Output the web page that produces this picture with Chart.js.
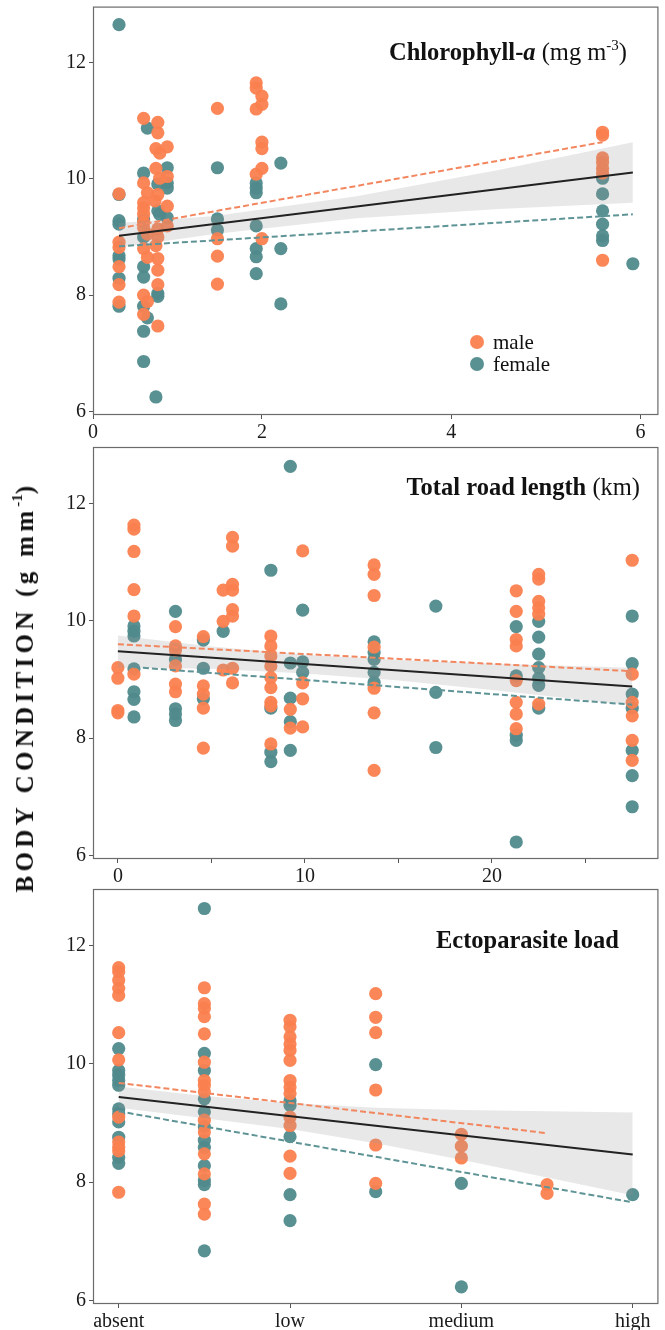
<!DOCTYPE html>
<html>
<head>
<meta charset="utf-8">
<script src="https://cdn.jsdelivr.net/npm/chart.js@4.4.1/dist/chart.umd.min.js"></script>
<style>
  html, body { margin:0; padding:0; background:#fff; }
  body { width:665px; height:1330px; position:relative; overflow:hidden; font-family:'Liberation Serif','Times New Roman',serif; color:#111; }
  canvas { position:absolute; left:0; }
  .ptitle { position:absolute; font-size:24.5px; line-height:26px; white-space:nowrap; color:#111; }
  .ptitle b { font-weight:bold; }
  .ptitle sup { font-size:15px; line-height:0; vertical-align:10px; }
  .legend { position:absolute; left:470px; top:331px; font-size:21px; line-height:22px; }
  .legend div { position:relative; padding-left:23px; height:22px; }
  .legend span.dot { position:absolute; left:0; top:4px; width:14px; height:14px; border-radius:50%; }
  .ylab { position:absolute; left:25px; top:687px; transform:translate(-50%,-50%) rotate(-90deg); font-weight:bold; font-size:25px; letter-spacing:4.3px; white-space:nowrap; }
  .ylab sup { font-size:15px; line-height:0; vertical-align:11px; letter-spacing:0; }
</style>
</head>
<body>
<canvas id="c1" width="665" height="460" style="top:0px"></canvas>
<canvas id="c2" width="665" height="460" style="top:440px"></canvas>
<canvas id="c3" width="665" height="450" style="top:880px"></canvas>

<div class="ptitle" style="right:38px; top:39px;"><b>Chlorophyll-<i>a</i></b> (mg m<sup>-3</sup>)</div>
<div class="ptitle" style="right:25px; top:474px;"><b>Total road length</b> (km)</div>
<div class="ptitle" style="right:46px; top:927px;"><b>Ectoparasite load</b></div>
<div class="legend" id="legend"></div>
<div class="ylab">BODY CONDITION (g mm<sup>-1</sup>)</div>

<script>
// ---------- colours & names ----------
const seriesNames = ['male', 'female'];
const maleColor = 'rgba(251,129,80,0.95)';
const femaleColor = 'rgba(80,138,140,0.95)';

// ---------- shared y axis ----------
const yTickValues = [6, 8, 10, 12];

// ---------- Panel 1: Chlorophyll-a ----------
const chlTickValues = [0, 2, 4, 6];
const chlTickLabels = ['0', '2', '4', '6'];
const chlMaleX = [0.49,0.49,0.49,0.49,0.49,0.49,
  0.75,0.75,0.75,0.75,0.75,0.75,0.75,0.75,0.75,0.75,
  0.79,0.79,0.79,0.79,
  0.90,0.90,0.88,0.92,0.88,0.92,0.90,0.87,0.90,0.90,0.88,0.90,0.90,0.90,0.90,
  1.00,1.00,1.00,1.00,
  1.53,1.53,1.53,1.53,
  1.94,1.94,1.94,1.94,
  2.00,2.00,2.00,2.00,2.00,2.00,
  5.60,5.60,5.60,5.60,5.60,5.60,5.60];
const chlMaleY = [9.74,8.91,8.82,8.49,8.18,7.88,
  11.04,9.93,9.59,9.50,9.39,9.25,9.16,8.80,8.00,7.67,
  9.76,9.05,8.65,7.89,
  10.97,10.79,10.52,10.44,10.18,10.01,9.73,9.62,9.14,9.00,8.85,8.63,8.43,8.18,7.47,
  10.55,10.04,9.53,9.19,
  11.21,8.97,8.67,8.19,
  11.65,11.56,11.20,10.08,
  11.42,11.28,10.63,10.52,10.18,8.97,
  10.80,10.75,10.36,10.28,10.18,10.10,8.60];
const chlFemaleX = [0.49,0.49,0.49,0.49,0.49,0.49,0.49,0.49,
  0.75,0.75,0.75,0.75,0.75,0.75,0.75,0.75,
  0.79,0.79,
  0.90,0.90,0.92,0.90,0.90,0.88,
  1.00,1.00,1.00,1.00,
  1.53,1.53,1.53,
  1.94,1.94,1.94,1.94,1.94,1.94,1.94,
  2.20,2.20,2.20,
  5.60,5.60,5.60,5.60,5.60,5.60,
  5.92];
const chlFemaleY = [12.65,9.73,9.28,9.22,8.68,8.62,8.29,7.81,
  10.10,9.30,9.00,8.49,8.31,7.81,7.38,6.86,
  10.87,7.61,
  9.91,9.45,9.39,8.03,7.98,6.25,
  10.19,9.93,9.84,9.33,
  10.19,9.31,9.12,
  9.93,9.84,9.76,9.19,8.80,8.66,8.37,
  10.27,8.80,7.85,
  10.01,9.74,9.45,9.22,9.02,8.94,
  8.54];
const chlFitX = [0.49, 5.92];
const chlFitY = [9.02, 10.11];
const chlMaleFitX = [0.49, 5.60];
const chlMaleFitY = [9.15, 10.63];
const chlFemaleFitX = [0.49, 5.92];
const chlFemaleFitY = [8.84, 9.39];
const chlBandX = [0.49, 1.5, 3.0, 4.5, 5.92];
const chlBandUpper = [9.24, 9.36, 9.70, 10.15, 10.63];
const chlBandLower = [8.82, 9.05, 9.32, 9.48, 9.59];

// ---------- Panel 2: Total road length ----------
const roadTickValues = [0, 5, 10, 15, 20, 25];
const roadTickLabels = ['0', '', '10', '', '20', ''];
const roadMaleX = [0,0,0,0,
  0.86,0.86,0.86,0.86,0.86,0.86,
  3.08,3.08,3.08,3.08,3.08,3.08,
  4.57,4.57,4.57,4.57,4.57,
  5.63,5.63,5.63,
  6.13,6.13,6.13,6.13,6.13,6.13,6.13,6.13,
  8.18,8.18,8.18,8.18,8.18,8.18,8.18,8.18,8.18,
  9.22,9.22,
  9.88,9.88,9.88,9.88,
  13.7,13.7,13.7,13.7,13.7,13.7,13.7,
  21.3,21.3,21.3,21.3,21.3,21.3,21.3,21.3,
  22.5,22.5,22.5,22.5,22.5,22.5,
  27.5,27.5,27.5,27.5,27.5,27.5];
const roadMaleY = [9.20,9.02,8.47,8.43,
  11.63,11.56,11.18,10.53,10.08,9.09,
  9.90,9.57,9.50,9.23,8.92,8.79,
  9.73,8.89,8.75,8.51,7.83,
  10.52,9.99,9.16,
  11.42,11.27,10.62,10.52,10.19,10.08,9.19,8.94,
  9.74,9.57,9.40,9.23,9.03,8.86,8.61,8.55,7.90,
  8.49,8.17,
  11.19,8.94,8.67,8.19,
  10.95,10.79,10.43,9.55,8.85,8.43,7.45,
  10.51,10.16,9.68,9.57,8.98,8.61,8.41,8.16,
  10.79,10.71,10.33,10.22,10.11,8.58,
  11.03,9.09,8.61,8.38,7.96,7.62];
const roadFemaleX = [0.86,0.86,0.86,0.86,0.86,0.86,0.86,
  3.08,3.08,3.08,3.08,3.08,
  4.57,4.57,4.57,
  5.63,
  8.18,8.18,8.18,8.18,
  9.22,9.22,9.22,9.22,9.22,
  9.88,9.88,9.88,
  13.7,13.7,13.7,13.7,13.7,
  17.0,17.0,17.0,
  21.3,21.3,21.3,21.3,21.3,
  22.5,22.5,22.5,22.5,22.5,22.5,22.5,
  27.5,27.5,27.5,27.5,27.5,27.5,27.5];
const roadFemaleY = [9.91,9.82,9.74,9.18,8.79,8.66,8.36,
  10.16,9.34,8.50,8.41,8.30,
  9.67,9.19,8.67,
  9.82,
  10.86,8.51,7.76,7.60,
  12.63,9.28,8.68,8.28,7.79,
  10.18,9.30,9.12,
  9.64,9.46,9.34,9.12,8.95,
  10.25,8.78,7.84,
  9.90,9.06,8.05,7.96,6.23,
  9.99,9.72,9.43,9.20,9.02,8.90,8.51,
  10.08,9.27,8.75,8.51,7.79,7.36,6.83];
const roadFitX = [0, 27.5];
const roadFitY = [9.48, 8.88];
const roadMaleFitX = [0, 27.5];
const roadMaleFitY = [9.60, 9.14];
const roadFemaleFitX = [0.86, 27.5];
const roadFemaleFitY = [9.21, 8.57];
const roadBandX = [0, 5, 10, 15, 20, 27.5];
const roadBandUpper = [9.75, 9.56, 9.42, 9.33, 9.27, 9.20];
const roadBandLower = [9.20, 9.18, 9.10, 8.98, 8.82, 8.56];

// ---------- Panel 3: Ectoparasite load ----------
const ectoTickValues = [0, 2, 4, 6];
const ectoTickLabels = ['absent', 'low', 'medium', 'high'];
const ectoMaleX = [0,0,0,0,0,0,0,0,0,0,0,0,
  1,1,1,1,1,1,1,1,1,1,1,1,1,1,1,
  2,2,2,2,2,2,2,2,2,2,2,2,2,
  3,3,3,3,3,3,
  4,4,4,
  5,5];
const ectoMaleY = [11.63,11.56,11.42,11.28,11.16,10.53,10.07,9.10,8.68,8.59,8.53,7.83,
  11.29,11.02,10.94,10.80,10.51,10.03,9.72,9.64,9.53,9.05,8.85,8.48,8.14,7.63,7.46,
  10.74,10.63,10.46,10.34,10.23,10.06,9.72,9.61,9.50,9.10,8.96,8.44,8.15,
  11.19,10.79,10.53,9.56,8.63,7.98,
  8.81,8.61,8.41,
  7.96,7.81];
const ectoFemaleX = [0,0,0,0,0,0,0,0,0,0,0,
  1,1,1,1,1,1,1,1,1,1,1,1,
  2,2,2,2,2,
  3,3,
  4,4,
  6];
const ectoFemaleY = [10.26,9.89,9.81,9.72,9.64,9.24,9.16,9.02,8.76,8.42,8.32,
  12.63,10.18,9.89,9.41,9.19,8.94,8.71,8.59,8.28,8.03,7.96,6.84,
  9.38,9.30,8.77,7.79,7.35,
  9.99,7.84,
  7.98,6.23,
  7.79];
const ectoFitX = [0, 6];
const ectoFitY = [9.44, 8.47];
const ectoMaleFitX = [0, 5];
const ectoMaleFitY = [9.68, 8.83];
const ectoFemaleFitX = [0, 6];
const ectoFemaleFitY = [9.20, 7.66];
const ectoBandX = [0, 1, 2, 3, 4, 5, 6];
const ectoBandUpper = [9.62, 9.46, 9.34, 9.26, 9.22, 9.20, 9.18];
const ectoBandLower = [9.26, 9.08, 8.90, 8.66, 8.38, 8.08, 7.78];

// ---------- helpers ----------
function pts(xs, ys) { return xs.map((x, i) => ({ x: x, y: ys[i] })); }

Chart.defaults.font.family = "'Liberation Serif','Times New Roman',serif";
Chart.defaults.font.size = 20;
Chart.defaults.color = '#1a1a1a';

const boxPlugin = {
  id: 'panelBox',
  afterDatasetsDraw(chart) {
    const a = chart.chartArea, ctx = chart.ctx;
    ctx.save();
    ctx.strokeStyle = '#6b6b6b';
    ctx.lineWidth = 1.2;
    ctx.strokeRect(a.left + 0.5, a.top + 0.5, a.right - a.left - 1, a.bottom - a.top - 1);
    ctx.restore();
  }
};

function noPad(s) { s.paddingTop = 0; s.paddingBottom = 0; s.paddingLeft = 0; s.paddingRight = 0; }

function makePanel(id, cfg) {
  const datasets = [
    { type:'line', label:'fit', data: pts(cfg.fitX, cfg.fitY), borderColor:'#222', borderWidth:2, pointRadius:0, fill:false, order:0 },
    { type:'line', label:'male fit', data: pts(cfg.mFitX, cfg.mFitY), borderColor:'#f2875f', borderWidth:2, borderDash:[6,3], pointRadius:0, fill:false, order:0 },
    { type:'line', label:'female fit', data: pts(cfg.fFitX, cfg.fFitY), borderColor:'#5f9496', borderWidth:2, borderDash:[6,3], pointRadius:0, fill:false, order:0 },
    { type:'line', label:'ci upper', data: pts(cfg.bandX, cfg.bandU), borderWidth:0, borderColor:'rgba(0,0,0,0)', pointRadius:0, fill:'+1', backgroundColor:'rgba(150,150,150,0.22)', order:1 },
    { type:'line', label:'ci lower', data: pts(cfg.bandX, cfg.bandL), borderWidth:0, borderColor:'rgba(0,0,0,0)', pointRadius:0, fill:false, order:1 },
    { type:'scatter', label: seriesNames[0], data: pts(cfg.mX, cfg.mY), backgroundColor: maleColor, borderWidth:0, pointRadius:6.6, order:2 },
    { type:'scatter', label: seriesNames[1], data: pts(cfg.fX, cfg.fY), backgroundColor: femaleColor, borderWidth:0, pointRadius:6.6, order:3 }
  ];
  const canvas = document.getElementById(id);
  return new Chart(canvas, {
    type: 'scatter',
    data: { datasets: datasets },
    plugins: [boxPlugin],
    options: {
      responsive: false,
      animation: false,
      events: [],
      layout: { padding: { top: cfg.padTop, right: 3, left: 0, bottom: 0 } },
      plugins: { legend: { display:false }, tooltip: { enabled:false } },
      scales: {
        x: {
          type: 'linear', min: cfg.xMin, max: cfg.xMax,
          grid: { display:true, drawOnChartArea:false, drawTicks:true, tickLength:4, color:'#555', tickColor:'#555' },
          border: { display:false },
          afterBuildTicks: (s) => { s.ticks = cfg.xTicks.map(v => ({ value: Math.max(v, s.min) })); },
          afterFit: (s) => { s.height = cfg.xAxisH; noPad(s); },
          ticks: { padding: 2, maxRotation: 0, autoSkip: false, color:'#1a1a1a',
                   callback: (v, i) => cfg.xLabels[i] }
        },
        y: {
          type: 'linear', min: 5.94, max: 12.96,
          grid: { display:true, drawOnChartArea:false, drawTicks:true, tickLength:4, color:'#555', tickColor:'#555' },
          border: { display:false },
          afterBuildTicks: (s) => { s.ticks = yTickValues.map(v => ({ value: v })); },
          afterFit: (s) => { s.width = 93; noPad(s); },
          ticks: { padding: 3, color:'#1a1a1a', callback: (v) => String(v) }
        }
      }
    }
  });
}

makePanel('c1', { mX: chlMaleX, mY: chlMaleY, fX: chlFemaleX, fY: chlFemaleY,
  fitX: chlFitX, fitY: chlFitY, mFitX: chlMaleFitX, mFitY: chlMaleFitY, fFitX: chlFemaleFitX, fFitY: chlFemaleFitY,
  bandX: chlBandX, bandU: chlBandUpper, bandL: chlBandLower,
  xMin: 0.215, xMax: 6.19, xTicks: chlTickValues, xLabels: chlTickLabels, padTop: 3, xAxisH: 45 });

makePanel('c2', { mX: roadMaleX, mY: roadMaleY, fX: roadFemaleX, fY: roadFemaleY,
  fitX: roadFitX, fitY: roadFitY, mFitX: roadMaleFitX, mFitY: roadMaleFitY, fFitX: roadFemaleFitX, fFitY: roadFemaleFitY,
  bandX: roadBandX, bandU: roadBandUpper, bandL: roadBandLower,
  xMin: -1.33, xMax: 28.9, xTicks: roadTickValues, xLabels: roadTickLabels, padTop: 7, xAxisH: 41 });

makePanel('c3', { mX: ectoMaleX, mY: ectoMaleY, fX: ectoFemaleX, fY: ectoFemaleY,
  fitX: ectoFitX, fitY: ectoFitY, mFitX: ectoMaleFitX, mFitY: ectoMaleFitY, fFitX: ectoFemaleFitX, fFitY: ectoFemaleFitY,
  bandX: ectoBandX, bandU: ectoBandUpper, bandL: ectoBandLower,
  xMin: -0.3, xMax: 6.3, xTicks: ectoTickValues, xLabels: ectoTickLabels, padTop: 9, xAxisH: 26 });

// HTML legend built from series names and colours
const legendEl = document.getElementById('legend');
[[seriesNames[0], maleColor], [seriesNames[1], femaleColor]].forEach(([name, col]) => {
  const row = document.createElement('div');
  const dot = document.createElement('span');
  dot.className = 'dot';
  dot.style.background = col;
  row.appendChild(dot);
  row.appendChild(document.createTextNode(name));
  legendEl.appendChild(row);
});
</script>
</body>
</html>
